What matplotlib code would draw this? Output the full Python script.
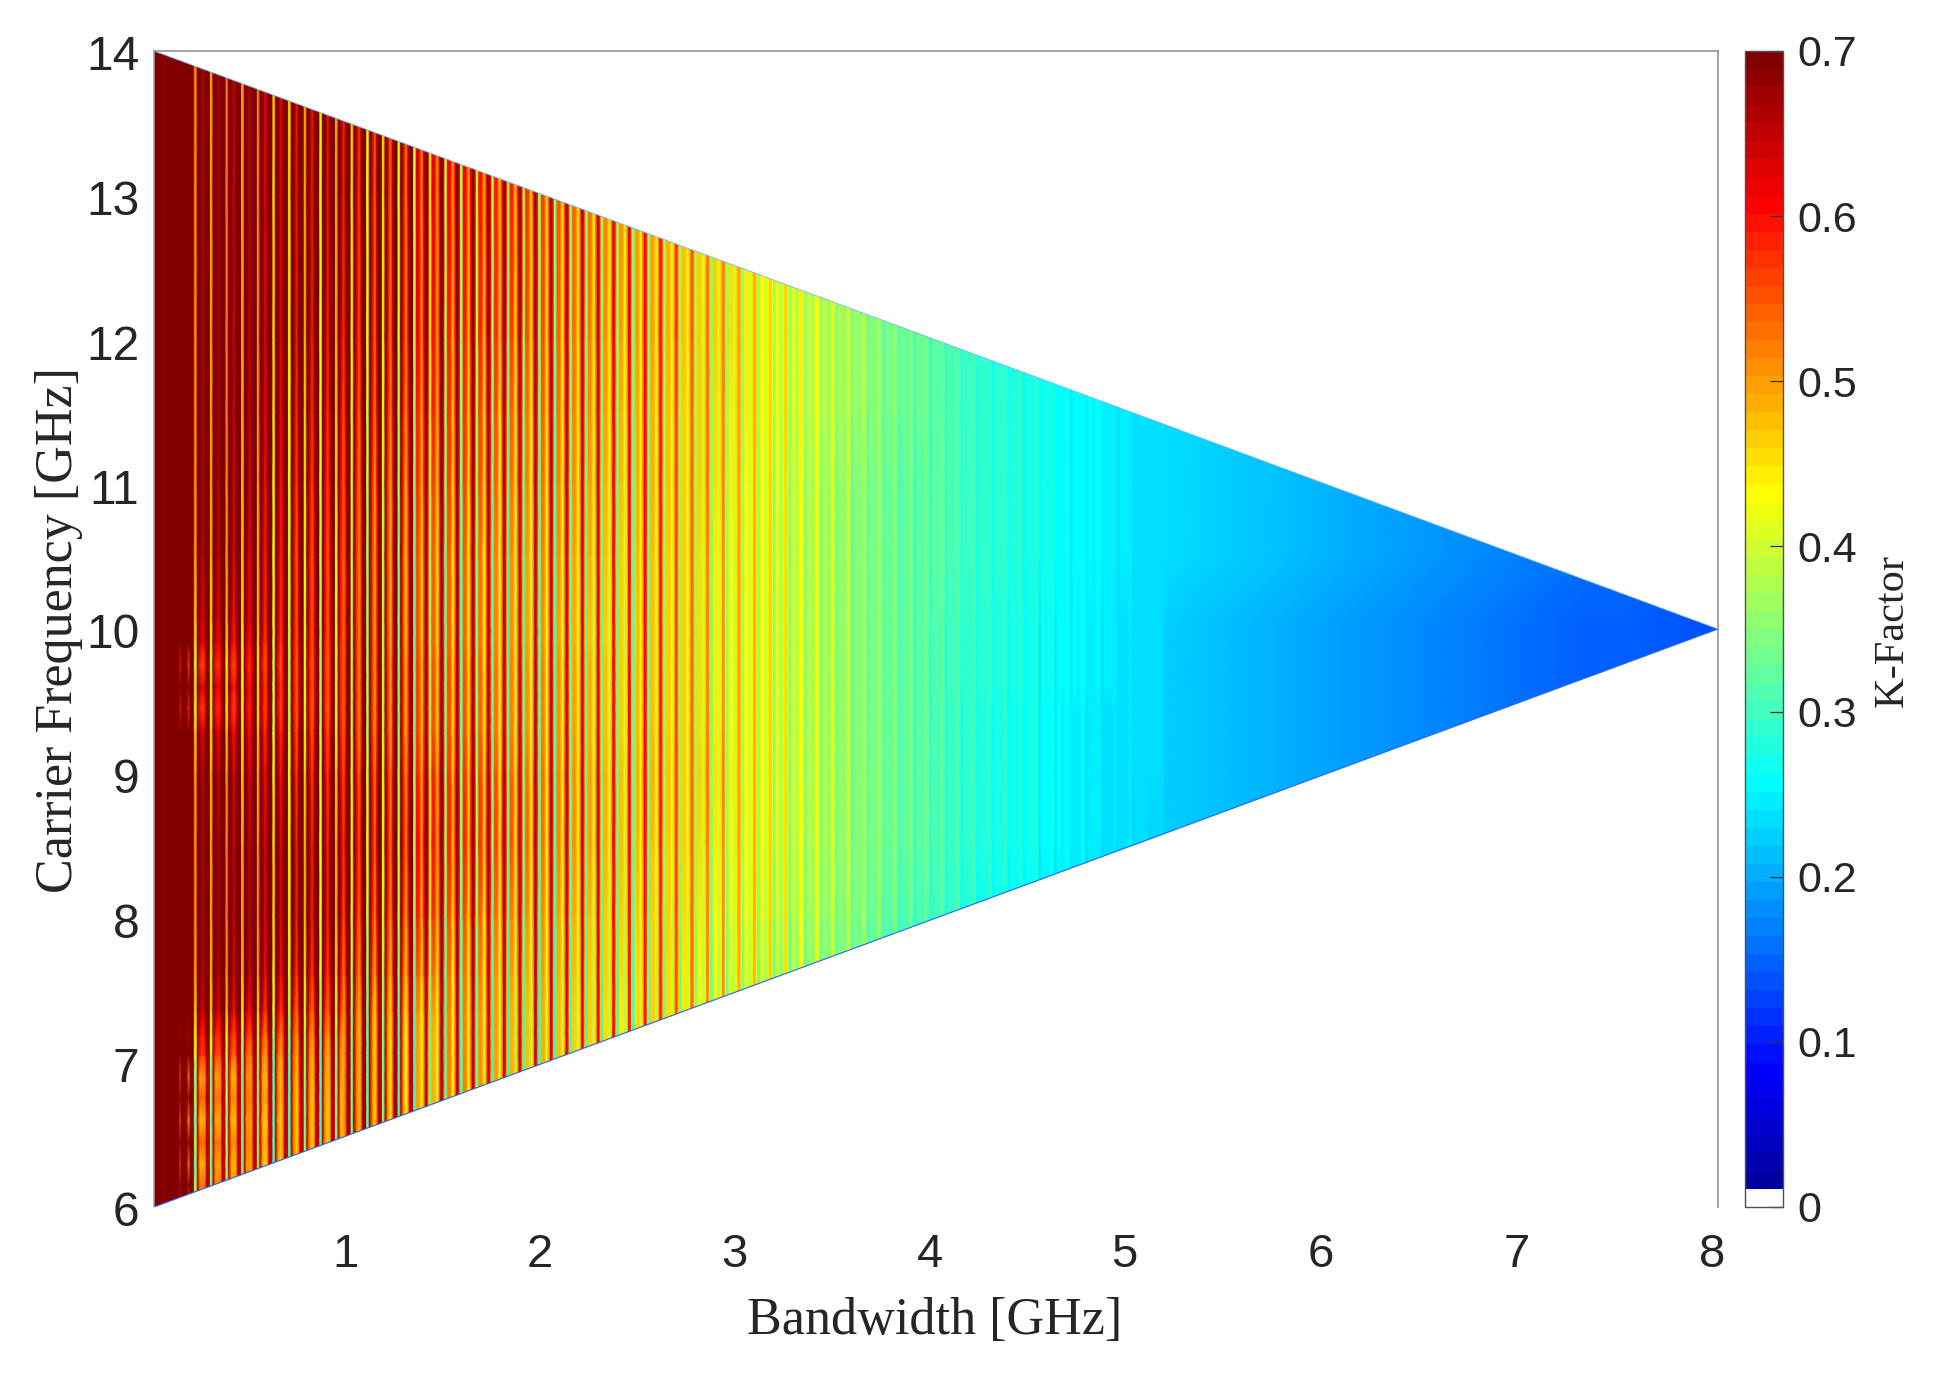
import numpy as np
import matplotlib
matplotlib.use("Agg")
import matplotlib.pyplot as plt
from matplotlib.colors import ListedColormap, Normalize
from matplotlib.patches import Polygon
from matplotlib.cm import ScalarMappable
from matplotlib.transforms import ScaledTranslation

# ---------- data ----------
x_ticks = [1, 2, 3, 4, 5, 6, 7, 8]
y_ticks = [6, 7, 8, 9, 10, 11, 12, 13, 14]
cbar_ticks = [0, 0.1, 0.2, 0.3, 0.4, 0.5, 0.6, 0.7]
cbar_labels = ['0', '0.1', '0.2', '0.3', '0.4', '0.5', '0.6', '0.7']

# outline of the valid (bandwidth, carrier) region
band_edges = [0.05, 8, 0.05]
carrier_edges = [6, 10, 14]

# columns left of the first stripe
lead_b = [0.05, 0.09, 0.10, 0.11, 0.16, 0.175, 0.183, 0.191, 0.215, 0.226, 0.237, 0.25]
lead_k = [0.75, 0.75, 0.67, 0.75, 0.75, 0.75, 0.74, 0.75, 0.75, 0.74, 0.75, 0.75]
lead_w = [0, 0, 0, 0, 0, 0, 0.8, 0, 0.3, 1.0, 0.3, 0.3]

# stripes: first stripe position and spacing [GHz]
stripe_start = 0.258
stripe_step = 0.0795
line_k = [.52, .50, .53, .50, .52, .47, .46, .50, .44, .50,
          .46, .44, .46, .42, .40, .43, .40, .39, .41, .38,
          .37, .38, .37, .36, .37, .36, .36, .37, .36, .35,
          .37, .36, .37, .36, .37, .36, .36, .35, .35, .35,
          .35, .34, .335, .325, .315, .31, .30, .295, .285, .28,
          .275, .27, .265, .26, .255, .253, .25, .245, .242, .24,
          .237, .234, .232]
ridge_k = [.72, .72, .72, .72, .72, .72, .72, .72, .72, .72,
           .72, .71, .71, .70, .70, .70, .69, .69, .68, .68,
           .67, .67, .66, .66, .65, .65, .63, .62, .61, .60,
           .57, .55, .53, .52, .50, .49, .47, .46, .44, .43,
           .41, .40, .385, .37, .36, .345, .335, .325, .315, .305,
           .295, .29, .285, .28, .275, .265, .26, .255, .25, .245,
           .24, .238, .235]
body_k = [.72, .72, .72, .72, .71, .71, .71, .70, .69, .68,
          .67, .67, .66, .65, .64, .63, .62, .62, .61, .60,
          .59, .58, .57, .56, .55, .54, .53, .52, .51, .50,
          .49, .48, .47, .46, .45, .44, .43, .42, .41, .40,
          .385, .375, .365, .355, .345, .335, .33, .32, .31, .30,
          .29, .285, .28, .275, .27, .262, .258, .252, .248, .243,
          .24, .238, .235]
minor_k = [.66, .66, .64, .65, .62, .62, .60, .60, .60, .59,
           .57, .55, .54, .53, .52, .51, .50, .49, .48, .47,
           .46, .46, .46, .45, .45, .44, .44, .43, .43, .42,
           .42, .42, .41, .41, .40, .40, .39, .38, .38, .37,
           .36, .35, .345, .34, .33, .325, .32, .31, .30, .295,
           .285, .28, .275, .27, .265, .258, .254, .249, .245, .241,
           .238, .236, .234]

# smooth right-hand part
tail_b = [5.2, 5.5, 5.8, 6.1, 6.4, 6.7, 7.0, 7.3, 7.6, 7.9, 8.0]
tail_k = [.232, .222, .21, .20, .19, .175, .165, .155, .15, .145, .14]

# change of K with carrier frequency, for bands of bandwidth
bin_edges = [0.25, 0.35, 0.5, 0.7, 1.0, 1.5, 2.0, 2.5, 3.0, 4.0, 5.0]
carrier_rows = [6.00, 6.15, 6.30, 6.45, 6.60, 6.75, 6.90, 7.05, 7.20, 7.35, 7.60,
                8.00, 8.50, 9.00, 9.30, 9.45, 9.60, 9.75, 9.90, 10.05, 10.5,
                11.0, 11.5, 12.0, 13.0, 14.0]
carrier_shift = [
    [-.20, -.24, -.22, -.20, -.18, -.14, -.10, -.08, -.04, -.03, -.03, -.01],
    [-.02, -.18, -.20, -.20, -.18, -.14, -.10, -.08, -.04, -.03, -.03, -.01],
    [-.22, -.24, -.23, -.22, -.19, -.14, -.10, -.08, -.04, -.03, -.03, -.01],
    [-.04, -.17, -.19, -.20, -.19, -.14, -.10, -.08, -.04, -.03, -.03, -.01],
    [-.24, -.25, -.24, -.22, -.19, -.14, -.10, -.08, -.04, -.03, -.03, -.01],
    [-.04, -.17, -.19, -.19, -.19, -.14, -.10, -.08, -.04, -.03, -.03, -.01],
    [-.22, -.23, -.23, -.21, -.18, -.14, -.10, -.08, -.04, -.03, -.03, -.01],
    [-.03, -.14, -.16, -.18, -.17, -.14, -.10, -.08, -.04, -.03, -.03, -.01],
    [-.08, -.10, -.12, -.14, -.15, -.14, -.10, -.08, -.04, -.03, -.03, -.01],
    [.000, -.05, -.06, -.08, -.11, -.13, -.10, -.08, -.04, -.03, -.03, -.01],
    [.000, -.01, -.02, -.03, -.06, -.10, -.09, -.07, -.04, -.03, -.03, -.01],
    [.000, .000, .000, .000, -.02, -.06, -.07, -.06, -.03, -.02, -.02, -.01],
    [.000, .000, .000, -.01, -.02, -.03, -.04, -.04, -.02, -.01, -.01, -.01],
    [.000, -.01, -.03, -.04, -.05, -.05, -.05, -.04, -.01, -.01, -.01, -.005],
    [-.03, -.06, -.07, -.07, -.08, -.08, -.07, -.05, -.02, -.01, -.01, -.005],
    [-.16, -.14, -.12, -.10, -.10, -.08, -.07, -.05, -.02, -.01, -.01, -.005],
    [-.02, -.06, -.08, -.08, -.09, -.08, -.07, -.05, -.02, -.01, -.005, -.005],
    [-.18, -.15, -.13, -.11, -.10, -.08, -.07, -.05, -.02, -.01, -.005, -.005],
    [-.03, -.07, -.08, -.08, -.09, -.09, -.08, -.06, -.02, -.01, -.005, -.005],
    [-.06, -.06, -.06, -.06, -.08, -.09, -.08, -.06, -.02, -.01, -.005, -.005],
    [.000, -.02, -.03, -.05, -.08, -.09, -.08, -.05, -.02, -.01, .000, .000],
    [.000, .000, -.01, -.03, -.06, -.07, -.06, -.04, -.01, -.01, .000, .000],
    [.000, .000, .000, -.02, -.04, -.05, -.05, -.03, -.01, .000, .000, .000],
    [.000, .000, .000, -.01, -.02, -.03, -.03, -.02, .000, .000, .000, .000],
    [.000, .000, .000, .000, .000, -.01, -.01, -.01, .000, .000, .000, .000],
    [.000, .000, .000, .000, .000, .000, .000, .000, .000, .000, .000, .000],
]

# ---------- build the surface ----------
# where each value sits inside one stripe period, and how much it follows the carrier table
node_frac = [0.0, 0.07, 0.17, 0.33, 0.50, 0.64, 0.74, 0.82, 0.94]
node_kind = ['line', 'line', 'flank', 'body', 'minor', 'body', 'ridge', 'ridge', 'flank']
kind_w = {'line': 0.8, 'ridge': 0.35, 'body': 1.0, 'minor': 0.7}
FLANK_RIDGE_UNTIL = 14

col_b, col_k, col_w = list(lead_b), list(lead_k), list(lead_w)
for n in range(len(line_k)):
    src = {'line': line_k[n], 'ridge': ridge_k[n], 'body': body_k[n], 'minor': minor_k[n]}
    for f, kind in zip(node_frac, node_kind):
        if kind == 'flank':
            kind = 'ridge' if n < FLANK_RIDGE_UNTIL else 'body'
        col_b.append(stripe_start + stripe_step * (n + f))
        col_k.append(src[kind])
        col_w.append(kind_w[kind])
col_b += tail_b
col_k += tail_k
col_w += [1.0] * len(tail_b)

col_b = np.array(col_b)
col_k = np.array(col_k)
col_w = np.array(col_w)
bins = np.searchsorted(bin_edges, col_b, side='left')
shift = np.array(carrier_shift)
Z = col_k[None, :] + col_w[None, :] * shift[:, bins]
XX, YY = np.meshgrid(col_b, carrier_rows)

# ---------- figure ----------
W, H = 1938, 1374
fig = plt.figure(figsize=(W / 100, H / 100), dpi=100, facecolor='white')


def rect(l, t, r, b):
    return [l / W, 1 - b / H, (r - l) / W, (b - t) / H]


ax = fig.add_axes(rect(154, 51, 1718, 1207))
cax = fig.add_axes(rect(1745, 51, 1783, 1207))

# the 64-level MATLAB jet with its lowest level white
lv = np.arange(1, 65) / 64
colors = np.column_stack([np.clip(1.5 - np.abs(4 * lv - 3), 0, 1),
                          np.clip(1.5 - np.abs(4 * lv - 2), 0, 1),
                          np.clip(1.5 - np.abs(4 * lv - 1), 0, 1)])
colors[0] = (1, 1, 1)
cmap = ListedColormap(colors)
norm = Normalize(0, 0.7)

mesh = ax.pcolormesh(XX, YY, Z, shading='gouraud', cmap=cmap, norm=norm)
tri = Polygon(np.column_stack([band_edges, carrier_edges]), closed=True,
              transform=ax.transData, facecolor='none', edgecolor='none')
ax.add_patch(tri)
mesh.set_clip_path(tri)

ax.plot(band_edges[:2], carrier_edges[:2], color='#2a62ff', lw=0.8, solid_capstyle='butt')
ax.plot(band_edges[1:], carrier_edges[1:], color='#7ab8ff', lw=0.6, solid_capstyle='butt')

ax.set_xlim(0.05, 8)
ax.set_ylim(6, 14)
ax.set_xticks(x_ticks)
ax.set_yticks(y_ticks)
SANS = 'Liberation Sans'
SERIF = 'Liberation Serif'
TXT = '#262626'
ax.tick_params(axis='x', length=0, pad=18.5, labelsize=34, labelcolor=TXT)
ax.tick_params(axis='y', length=0, pad=10.5, labelsize=34.5, labelcolor=TXT)
x_label_nudge = [5, 2.5, 0, -1, -3.5, -3.5, -5, -6]
for t, dx in zip(ax.get_xticklabels(), x_label_nudge):
    t.set_fontfamily(SANS)
    t.set_transform(t.get_transform() + ScaledTranslation(dx / 100, 0, fig.dpi_scale_trans))
for t in ax.get_yticklabels():
    t.set_fontfamily(SANS)
    t.set_transform(t.get_transform() + ScaledTranslation(0, -2 / 100, fig.dpi_scale_trans))
for name, sp in ax.spines.items():
    sp.set_color('#8a8a8a')
    sp.set_linewidth(1.1)
ax.spines['bottom'].set_visible(False)
ax.spines['left'].set_color('#a8a8a8')

fig.text(935 / W, 1 - 1321 / H, 'Bandwidth [GHz]', family=SERIF, fontsize=37.5,
         color=TXT, ha='center', va='center')
fig.text(59 / W, 1 - 630 / H, 'Carrier Frequency [GHz]', family=SERIF, fontsize=37.5,
         color=TXT, ha='center', va='center', rotation=90)

cb = fig.colorbar(ScalarMappable(norm=norm, cmap=cmap), cax=cax)
cb.set_ticks(cbar_ticks)
cb.set_ticklabels(cbar_labels)
cax.tick_params(axis='y', direction='in', length=9.5, width=0.9, color='#303030',
                pad=10, labelsize=31, labelcolor=TXT)
for t in cax.get_yticklabels():
    t.set_fontfamily(SANS)
cb.outline.set_edgecolor('#505050')
cb.outline.set_linewidth(1.0)
fig.text(1892 / W, 1 - 630 / H, 'K-Factor', family=SERIF, fontsize=30.5,
         color=TXT, ha='center', va='center', rotation=90)

fig.savefig('out.png', dpi=100, facecolor='white')
